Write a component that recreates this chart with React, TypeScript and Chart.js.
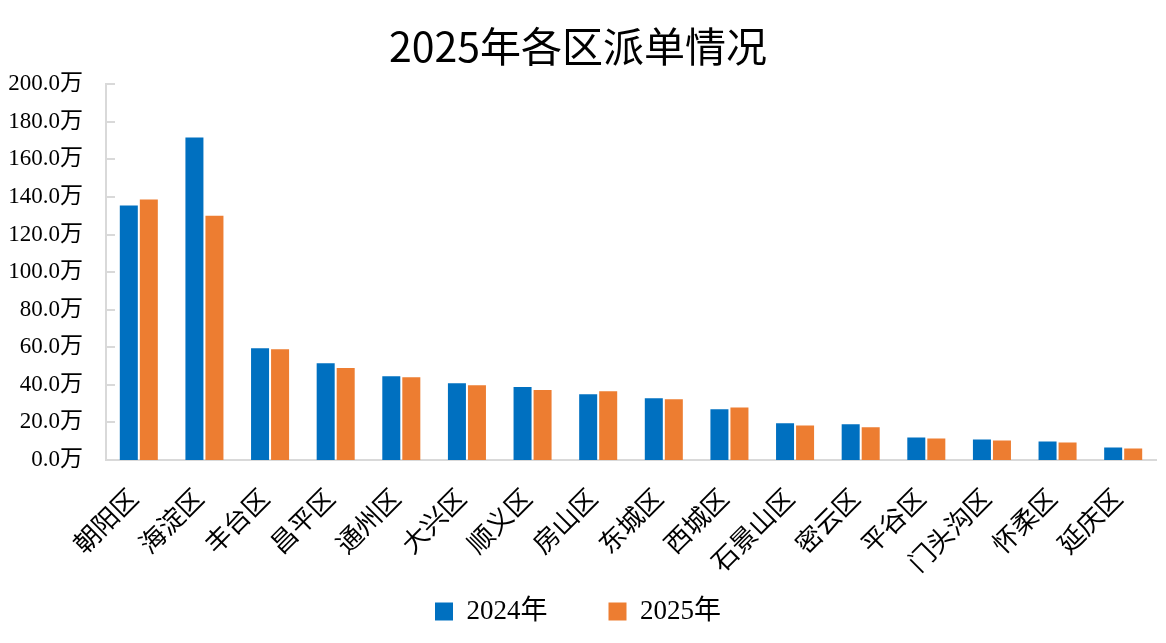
import React, { useEffect, useRef } from "react";
import { Chart, registerables } from "chart.js";

Chart.register(...registerables);

const categories = ["朝阳区", "海淀区", "丰台区", "昌平区", "通州区", "大兴区", "顺义区", "房山区", "东城区", "西城区", "石景山区", "密云区", "平谷区", "门头沟区", "怀柔区", "延庆区"];
const series2024 = [135.4, 171.7, 59.5, 51.5, 44.6, 40.9, 38.8, 35.0, 32.8, 27.0, 19.5, 19.0, 12.0, 10.9, 9.9, 6.7];
const series2025 = [138.6, 130.0, 59.0, 48.9, 44.1, 39.8, 37.2, 36.6, 32.3, 28.0, 18.4, 17.4, 11.5, 10.4, 9.3, 6.1];
const seriesNames = ["2024年", "2025年"];
const titleText = "2025年各区派单情况";

const AXIS = "#d9d9d9";
const SERIF = '"Liberation Serif", "Times New Roman", "Noto Sans CJK SC", serif';

const innerTicks = {
  id: "innerTicks",
  afterLayout(chart: any) {
    // let the rotated category labels use the empty space above the legend
    chart.scales.x.bottom = chart.height;
  },
  afterDraw(chart: any) {
    const y = chart.scales.y;
    const ctx = chart.ctx;
    ctx.save();
    ctx.strokeStyle = AXIS;
    ctx.lineWidth = 2;
    y.ticks.forEach((t: any) => {
      const py = Math.round(y.getPixelForValue(t.value));
      ctx.beginPath();
      ctx.moveTo(y.right, py);
      ctx.lineTo(y.right + 9, py);
      ctx.stroke();
    });
    ctx.restore();
  },
};

export default function App() {
  const ref = useRef<HTMLCanvasElement>(null);
  useEffect(() => {
    document.body.style.margin = "0";
    const chart = new Chart(ref.current!, {
      type: "bar",
      data: {
        labels: categories,
        datasets: [
          { label: seriesNames[0], data: series2024, backgroundColor: "#0070C0", barPercentage: 0.9, categoryPercentage: 0.61 },
          { label: seriesNames[1], data: series2025, backgroundColor: "#ED7D31", barPercentage: 0.9, categoryPercentage: 0.61 },
        ],
      },
      options: {
        animation: false,
        responsive: false,
        maintainAspectRatio: false,
        layout: { padding: { left: 0, right: 10, top: 0, bottom: 8 } },
        plugins: {
          title: {
            display: true,
            text: titleText,
            color: "#000",
            font: { family: '"Noto Sans CJK SC", sans-serif', size: 41, weight: "normal" },
            padding: { top: 22, bottom: 13 },
          },
          legend: {
            position: "bottom",
            labels: {
              boxWidth: 18,
              boxHeight: 18,
              padding: 61,
              color: "#000",
              font: { family: SERIF, size: 27 },
            },
          },
          tooltip: { enabled: false },
        },
        scales: {
          x: {
            grid: { display: false, drawTicks: false },
            border: { color: AXIS, width: 2 },
            afterFit: (s: any) => {
              s.paddingLeft = 0;
              s.paddingRight = 0;
              s.height = 77;
            },
            ticks: {
              color: "#000",
              minRotation: 45,
              maxRotation: 45,
              autoSkip: false,
              padding: 22,
              labelOffset: -6,
              font: { family: '"Noto Sans CJK SC", sans-serif', size: 26 },
            },
          },
          y: {
            min: 0,
            max: 200,
            grid: { display: false, drawTicks: false },
            border: { color: AXIS, width: 2 },
            afterFit: (s: any) => {
              s.width = 106;
            },
            ticks: {
              stepSize: 20,
              color: "#000",
              padding: 23,
              font: { family: SERIF, size: 23 },
              callback: (v: any) => Number(v).toFixed(1) + "万",
            },
          },
        },
      },
      plugins: [innerTicks],
    });
    return () => chart.destroy();
  }, []);
  return <canvas ref={ref} width={1166} height={643} style={{ display: "block" }} />;
}
